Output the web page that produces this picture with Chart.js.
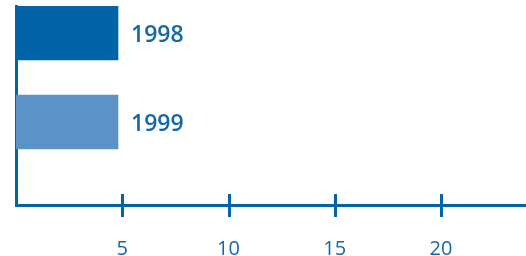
<!DOCTYPE html>
<html>
<head>
<meta charset="utf-8">
<script src="https://cdn.jsdelivr.net/npm/chart.js@4"></script>
<style>
  html, body { margin: 0; padding: 0; background: #fff; }
  #wrap { width: 526px; height: 256px; }
</style>
</head>
<body>
<div id="wrap"><canvas id="year-chart" width="526" height="256"></canvas></div>
<script>
const years = ['1998', '1999'];
const values = [4.8, 4.8];
const barColors = ['#0064a6', '#5b93c7'];
const xTicks = [5, 10, 15, 20];

const blue = '#0064a6';
const textBlue = '#1467a8';

// axis tick marks cross the x axis line (above and below)
const crossTicks = {
    id: 'crossTicks',
    afterDraw(chart) {
        const ctx = chart.ctx;
        const x = chart.scales.x;
        const y0 = chart.chartArea.bottom;
        ctx.save();
        ctx.strokeStyle = blue;
        ctx.lineWidth = 3;
        xTicks.forEach(t => {
            const px = Math.round(x.getPixelForValue(t)) + 0.5;
            ctx.beginPath();
            ctx.moveTo(px, y0 - 11);
            ctx.lineTo(px, y0 + 12);
            ctx.stroke();
        });
        ctx.restore();
    }
};

// year labels to the right of each bar
const barLabels = {
    id: 'barLabels',
    afterDatasetsDraw(chart) {
        const ctx = chart.ctx;
        const meta = chart.getDatasetMeta(0);
        ctx.save();
        ctx.fillStyle = textBlue;
        ctx.font = '600 23px "Open Sans"';
        ctx.textBaseline = 'middle';
        meta.data.forEach((bar, i) => {
            ctx.fillText(years[i], bar.x + 13, bar.y + 2);
        });
        ctx.restore();
    }
};

new Chart(document.getElementById('year-chart'), {
    type: 'bar',
    data: {
        datasets: [{
            data: values.map((v, i) => ({ x: v, y: i })),
            backgroundColor: barColors,
            borderWidth: 0,
            barThickness: 54
        }]
    },
    options: {
        indexAxis: 'y',
        responsive: false,
        animation: false,
        layout: { padding: { top: 6, right: 0, left: 0, bottom: 0 } },
        plugins: { legend: { display: false }, tooltip: { enabled: false } },
        scales: {
            x: {
                type: 'linear',
                bounds: 'data',
                min: 0,
                max: 24,
                afterFit: s => { s.height = 51; },
                afterBuildTicks: s => { s.ticks = xTicks.map(v => ({ value: v })); },
                grid: { display: false },
                border: { color: blue, width: 3 },
                ticks: {
                    color: textBlue,
                    padding: 24,
                    font: { family: 'Open Sans', size: 20 }
                }
            },
            y: {
                type: 'linear',
                bounds: 'data',
                reverse: true,
                min: -0.303,
                max: 1.933,
                afterFit: s => { s.width = 16; },
                afterBuildTicks: s => { s.ticks = []; },
                grid: { display: false },
                border: { color: blue, width: 3 },
                ticks: { display: false }
            }
        }
    },
    plugins: [crossTicks, barLabels]
});
</script>
</body>
</html>
